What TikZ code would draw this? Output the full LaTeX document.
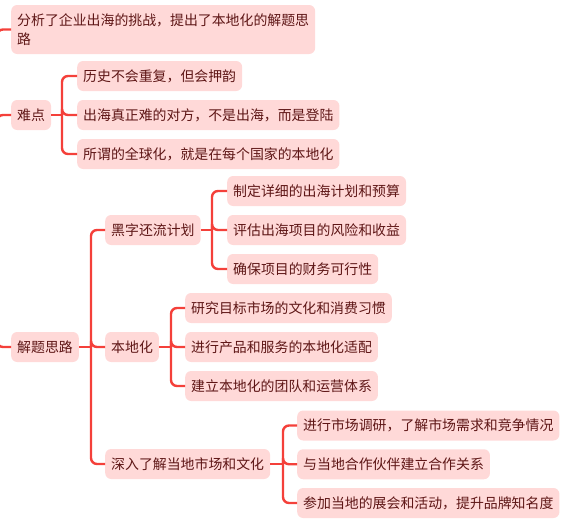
\documentclass[tikz,border=0pt]{standalone}
\usepackage{fontspec}
\newfontfamily\cjk{Noto Sans CJK SC}
\usetikzlibrary{positioning}
\definecolor{lbox}{HTML}{FFD9D8}
\definecolor{ltxt}{HTML}{5E1616}
\definecolor{llink}{HTML}{F4403A}

\begin{document}
\begin{tikzpicture}[x=1pt, y=-1pt,
  every node/.style={font=\cjk\fontsize{13.9}{19}\selectfont},
  topic/.style={fill=lbox, text=ltxt, rounded corners=6pt, inner xsep=6pt,
    inner ysep=0pt, minimum height=30pt, anchor=west},
  link/.style={draw=llink, line width=2.4pt, rounded corners=6pt}]
  \useasboundingbox (0,0) rectangle (564,525);
  \clip (0,0) rectangle (564,525);
  % first level
  \node[topic, align=left, minimum height=49pt] (intro) at (11,29.5)
    {分析了企业出海的挑战，提出了本地化的解题思\\路};
  \node[topic] (nandian) at (11,115) {难点};
  \node[topic] (silu) at (11,347) {解题思路};
  \coordinate (root) at (-3,200);
  \foreach \n in {intro, nandian, silu}
    \draw[link] (root) |- (\n.west);
  % 难点
  \coordinate (bnd) at (62,115);
  \draw[link] (nandian.east) -- (bnd);
  \foreach \t [count=\i] in {历史不会重复，但会押韵,
      出海真正难的对方，不是出海，而是登陆,
      所谓的全球化，就是在每个国家的本地化} {
    \node[topic] (nd\i) at (77,76+\i*39-39) {\t};
    \draw[link] (bnd) |- (nd\i.west);
  }
  % 解题思路
  \node[topic] (heizi) at (105,230) {黑字还流计划};
  \node[topic] (bdh) at (105,347) {本地化};
  \node[topic] (shenru) at (105,464) {深入了解当地市场和文化};
  \coordinate (bsl) at (91,347);
  \draw[link] (silu.east) -- (bsl);
  \foreach \n in {heizi, bdh, shenru}
    \draw[link] (bsl) |- (\n.west);
  % 黑字还流计划
  \coordinate (bhz) at (212,230);
  \draw[link] (heizi.east) -- (bhz);
  \foreach \t [count=\i] in {制定详细的出海计划和预算,
      评估出海项目的风险和收益, 确保项目的财务可行性} {
    \node[topic] (hz\i) at (227,191+\i*39-39) {\t};
    \draw[link] (bhz) |- (hz\i.west);
  }
  % 本地化
  \coordinate (bbd) at (171,347);
  \draw[link] (bdh.east) -- (bbd);
  \foreach \t [count=\i] in {研究目标市场的文化和消费习惯,
      进行产品和服务的本地化适配, 建立本地化的团队和运营体系} {
    \node[topic] (bd\i) at (185,308+\i*39-39) {\t};
    \draw[link] (bbd) |- (bd\i.west);
  }
  % 深入了解当地市场和文化
  \coordinate (bsr) at (283,464);
  \draw[link] (shenru.east) -- (bsr);
  \foreach \t [count=\i] in {进行市场调研，了解市场需求和竞争情况,
      与当地合作伙伴建立合作关系, 参加当地的展会和活动，提升品牌知名度} {
    \node[topic] (sr\i) at (297,425.5+\i*38.75-38.75) {\t};
    \draw[link] (bsr) |- (sr\i.west);
  }
\end{tikzpicture}
\end{document}
